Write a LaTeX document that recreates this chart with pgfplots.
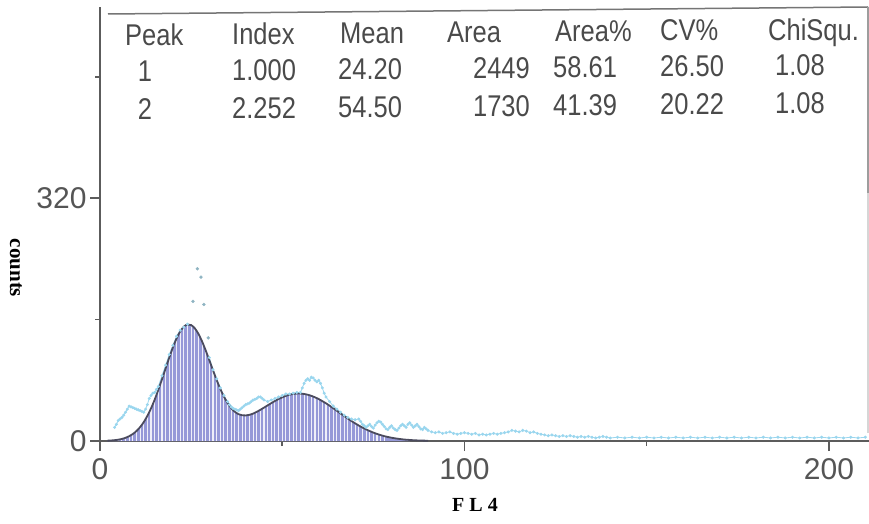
\documentclass[border=0pt]{standalone}
\usepackage{fontspec}
\setmainfont{Liberation Sans}
\newfontfamily\tabfont{Liberation Sans}[FakeStretch=0.85]
\newfontfamily\labfont{Liberation Serif}
\usepackage{pgfplots}
\pgfplotsset{compat=1.18}
\definecolor{axisgray}{HTML}{5C5C5C}
\definecolor{ticktext}{HTML}{555555}
\definecolor{tabtext}{HTML}{4A4A4A}
\definecolor{histfill}{HTML}{9699D8}
\definecolor{curvecol}{HTML}{4B4B5E}
\definecolor{rawcyan}{HTML}{9AD6EE}
\begin{document}
\begin{tikzpicture}[x=1pt,y=1pt]
\begin{axis}[
  at={(100pt,82pt)}, anchor=south west,
  scale only axis, width=769pt, height=434pt,
  xmin=0, xmax=211, ymin=0, ymax=572,
  axis lines*=left, clip=false,
  axis line style={draw=axisgray, line width=1.8pt},
  xtick={0,100,200}, minor xtick={50,150},
  ytick={0,320}, minor ytick={160,480},
  tick align=outside,
  major tick length=10pt, minor tick length=5pt,
  every tick/.style={draw=axisgray, line width=1.5pt},
  minor tick style={draw=axisgray, line width=1.5pt},
  major tick style={draw=axisgray, line width=1.5pt},
  /pgf/number format/assume math mode=true,
  ticklabel style={font=\fontsize{30}{36}\selectfont, text=ticktext},
  xticklabel style={yshift=-4pt},
]
% raw data (cyan)
\addplot[rawcyan, line width=0.8pt, mark=*, mark size=1.1pt] coordinates {
(4,18) (4.5,22) (5,27) (5.5,29) (6,31) (6.5,34) (7,38) (7.5,42) (8,46) (8.5,45)
(9,44) (9.5,43) (10,42) (10.5,41) (11,40) (11.5,39) (12,38) (12.5,42) (13,48)
(13.5,56) (14,60) (14.5,63) (15,64) (15.5,68) (16,72) (17,86) (18,100) (19,114)
(20,126) (21,138) (22,146) (23,150) (24,154)
};
\addplot[rawcyan!60!gray, only marks, mark=*, mark size=1.5pt] coordinates {
(25.5,184) (26.7,227) (27.7,216) (28.5,180) (29.7,136)
};
\addplot[rawcyan, line width=0.8pt, mark=*, mark size=1.1pt] coordinates {
(30,110) (31,94) (32,82) (33,70) (34,60) (35,52) (35.5,48) (36,45) (36.5,43)
(37,42) (37.5,41) (38,40) (38.5,42) (39,44) (39.5,46) (40,48) (40.5,49) (41,50)
(41.5,52) (42,54) (42.5,55) (43,56) (43.5,58) (44,58) (44.5,56) (45,54) (46,52)
(47,54) (48,56) (49,58) (50,60) (51,62) (52,62) (53,63) (54,64) (55,64)
(55.5,70) (56,76) (56.5,80) (57,82) (57.5,80) (58,84) (58.5,83) (59,80)
(59.5,78) (60,80) (60.5,76) (61,70) (61.5,63) (62,58) (63,52) (64,46) (65,42)
(66,38) (67,34) (68,31) (69,29) (70,28) (71,29) (71.5,26) (72,22) (72.5,20)
(73,18) (73.5,20) (74,22) (74.5,19) (75,17) (75.5,21) (76,24) (76.5,26)
(77,25) (77.5,22) (78,19) (78.5,16) (79,15) (79.5,18) (80,20) (80.5,17)
(81,15) (81.5,14) (82,17) (82.5,20) (83,22) (83.5,20) (84,18) (84.5,22)
(85,24) (85.5,21) (86,18) (86.5,20) (87,22) (87.5,19) (88,16) (88.5,15)
(89,18) (89.5,16) (90,14) (91,12) (92,11) (93,12) (94,10) (95,11) (96,12)
(97,10) (98,9) (99,10) (100,11) (101,10) (102,9) (103,10) (104,8) (105,9)
(106,8) (107,9) (108,10) (109,9) (110,10) (111,11) (112,12) (113,14) (114,13)
(115,12) (116,14) (117,13) (118,11) (119,12) (120,10) (121,9) (122,8)
(123,7) (124,8) (125,7) (126,6) (127,7) (128,6) (129,7) (130,6) (131,5)
(132,6) (133,5) (134,6) (135,5) (136,4) (137,5) (138,6) (139,5) (140,4)
(142,5) (144,4) (146,5) (148,4) (150,5) (152,4) (154,5) (156,4) (158,5)
(160,4) (162,5) (164,4) (166,5) (168,4) (170,5) (172,4) (174,5) (176,4)
(178,5) (180,4) (182,5) (184,4) (186,5) (188,4) (190,5) (192,4) (194,5)
(196,4) (198,5) (200,4) (202,5) (204,4) (206,5) (208,4) (210,5)
};
% fitted histogram fill
\addplot[fill=histfill, draw=none] coordinates {
(2,0.4) (3,0.7) (4,1.1) (5,1.7) (6,2.7) (7,4.2) (8,6.3) (9,9.2) (10,13.1)
(11,18.3) (12,24.9) (13,33.2) (14,43.0) (15,54.5) (16,67.4) (17,81.3)
(18,95.7) (19,109.9) (20,123.4) (21,135.1) (22,144.4) (23,150.7) (24,153.6)
(25,152.8) (26,148.6) (27,141.3) (28,131.3) (29,119.4) (30,106.5) (31,93.3)
(32,80.5) (33,68.7) (34,58.5) (35,50.0) (36,43.3) (37,38.5) (38,35.4)
(39,33.9) (40,33.7) (41,34.5) (42,36.1) (43,38.4) (44,41.1) (45,44.0)
(46,47.0) (47,49.9) (48,52.8) (49,55.3) (50,57.6) (51,59.5) (52,61.0)
(53,62.0) (54,62.5) (55,62.5) (56,62.0) (57,61.0) (58,59.5) (59,57.6)
(60,55.3) (61,52.6) (62,49.7) (63,46.5) (64,43.2) (65,39.8) (66,36.3)
(67,32.9) (68,29.6) (69,26.3) (70,23.3) (71,20.4) (72,17.7) (73,15.3)
(74,13.1) (75,11.1) (76,9.3) (77,7.8) (78,6.4) (79,5.3) (80,4.3) (81,3.5)
(82,2.8) (83,2.2) (84,1.7) (85,1.4)
} \closedcycle;
% white channel stripes
\addplot[ycomb, draw=white, line width=1.1pt, opacity=0.85] coordinates {
(5,1.7) (6,2.7) (7,4.2) (8,6.3) (9,9.2) (10,13.1)
(11,18.3) (12,24.9) (13,33.2) (14,43.0) (15,54.5) (16,67.4) (17,81.3)
(18,95.7) (19,109.9) (20,123.4) (21,135.1) (22,144.4) (23,150.7) (24,153.6)
(25,152.8) (26,148.6) (27,141.3) (28,131.3) (29,119.4) (30,106.5) (31,93.3)
(32,80.5) (33,68.7) (34,58.5) (35,50.0) (36,43.3) (37,38.5) (38,35.4)
(39,33.9) (40,33.7) (41,34.5) (42,36.1) (43,38.4) (44,41.1) (45,44.0)
(46,47.0) (47,49.9) (48,52.8) (49,55.3) (50,57.6) (51,59.5) (52,61.0)
(53,62.0) (54,62.5) (55,62.5) (56,62.0) (57,61.0) (58,59.5) (59,57.6)
(60,55.3) (61,52.6) (62,49.7) (63,46.5) (64,43.2) (65,39.8) (66,36.3)
(67,32.9) (68,29.6) (69,26.3) (70,23.3) (71,20.4) (72,17.7) (73,15.3)
(74,13.1) (75,11.1) (76,9.3) (77,7.8) (78,6.4)
};
% fit curve
\addplot[smooth, draw=curvecol, line width=1.8pt] coordinates {
(2,0.4) (3,0.7) (4,1.1) (5,1.7) (6,2.7) (7,4.2) (8,6.3) (9,9.2) (10,13.1)
(11,18.3) (12,24.9) (13,33.2) (14,43.0) (15,54.5) (16,67.4) (17,81.3)
(18,95.7) (19,109.9) (20,123.4) (21,135.1) (22,144.4) (23,150.7) (24,153.6)
(25,152.8) (26,148.6) (27,141.3) (28,131.3) (29,119.4) (30,106.5) (31,93.3)
(32,80.5) (33,68.7) (34,58.5) (35,50.0) (36,43.3) (37,38.5) (38,35.4)
(39,33.9) (40,33.7) (41,34.5) (42,36.1) (43,38.4) (44,41.1) (45,44.0)
(46,47.0) (47,49.9) (48,52.8) (49,55.3) (50,57.6) (51,59.5) (52,61.0)
(53,62.0) (54,62.5) (55,62.5) (56,62.0) (57,61.0) (58,59.5) (59,57.6)
(60,55.3) (61,52.6) (62,49.7) (63,46.5) (64,43.2) (65,39.8) (66,36.3)
(67,32.9) (68,29.6) (69,26.3) (70,23.3) (71,20.4) (72,17.7) (73,15.3)
(74,13.1) (75,11.1) (76,9.3) (77,7.8) (78,6.4) (79,5.3) (80,4.3) (81,3.5)
(82,2.8) (83,2.2) (84,1.7) (85,1.4) (86,1.0) (87,0.8) (88,0.6) (89,0.5) (90,0.3)
};
\draw[axisgray, line width=1.8pt] (axis cs:0,0) -- (axis cs:0,-9);
\end{axis}
% result table frame
\draw[axisgray!85, line width=1.5pt] (108,509) -- (868,516);
\draw[axisgray!60, line width=1.3pt] (868,516) -- (868,330);
\draw[axisgray!25, line width=1.2pt] (868,330) -- (868,90);
% table text
\begin{scope}[every node/.style={inner sep=0pt, text=tabtext, font=\tabfont\fontsize{30}{36}\selectfont}]
\node[anchor=base west] at (125,477) {Peak};
\node[anchor=base] at (145,441) {1};
\node[anchor=base] at (145,403) {2};
\node[anchor=base west] at (232,478) {Index};
\node[anchor=base west] at (232,442) {1.000};
\node[anchor=base west] at (232,404) {2.252};
\node[anchor=base west] at (340,479) {Mean};
\node[anchor=base west] at (338,443) {24.20};
\node[anchor=base west] at (338,405) {54.50};
\node[anchor=base west] at (447,480) {Area};
\node[anchor=base east] at (530,444) {2449};
\node[anchor=base east] at (530,406) {1730};
\node[anchor=base west] at (555,481) {Area\%};
\node[anchor=base west] at (553,445) {58.61};
\node[anchor=base west] at (553,407) {41.39};
\node[anchor=base west] at (660,482) {CV\%};
\node[anchor=base west] at (660,446) {26.50};
\node[anchor=base west] at (660,408) {20.22};
\node[anchor=base west] at (768,482) {ChiSqu.};
\node[anchor=base west] at (775,447) {1.08};
\node[anchor=base west] at (775,409) {1.08};
\end{scope}
% axis labels
\node[inner sep=0pt, rotate=-90, font=\labfont\bfseries\fontsize{21}{24}\selectfont] at (16,255) {counts};
\node[inner sep=0pt, font=\labfont\bfseries\fontsize{20}{24}\selectfont] at (475,18) {F L 4};
\pgfresetboundingbox
\path[use as bounding box] (0,0) rectangle (869,523);
\end{tikzpicture}
\end{document}
